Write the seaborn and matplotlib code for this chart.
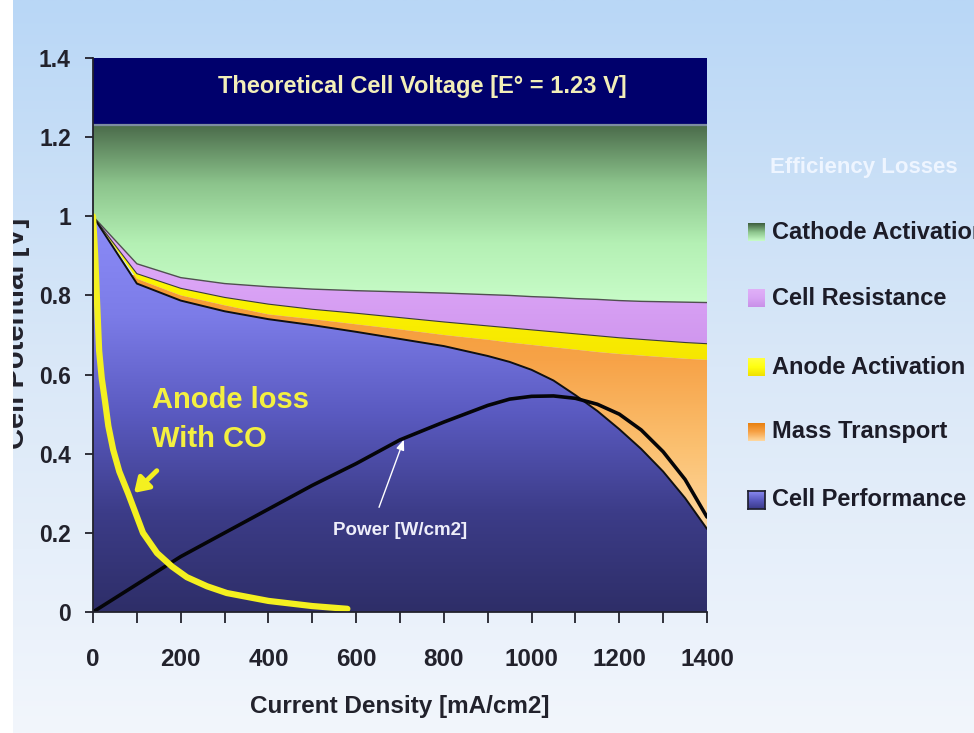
import numpy as np
import matplotlib
matplotlib.use("Agg")
import matplotlib.pyplot as plt
import seaborn as sns
from matplotlib.colors import LinearSegmentedColormap

# ---------------- data ----------------
current = [0, 100, 200, 300, 400, 500, 600, 700, 800, 900, 950, 1000, 1050,
           1100, 1150, 1200, 1250, 1300, 1350, 1400]
cathode_lower = [1.0, 0.88, 0.845, 0.83, 0.822, 0.816, 0.812, 0.809, 0.806, 0.802, 0.80,
                 0.797, 0.795, 0.792, 0.79, 0.787, 0.785, 0.784, 0.783, 0.782]
resistance_lower = [1.0, 0.855, 0.818, 0.795, 0.778, 0.765, 0.755, 0.744, 0.733, 0.723,
                    0.718, 0.713, 0.708, 0.703, 0.698, 0.693, 0.689, 0.685, 0.681, 0.678]
anode_lower = [1.0, 0.842, 0.80, 0.775, 0.752, 0.74, 0.727, 0.714, 0.70, 0.688, 0.681,
               0.675, 0.669, 0.663, 0.657, 0.652, 0.648, 0.644, 0.64, 0.637]
cell_performance = [1.0, 0.83, 0.787, 0.76, 0.74, 0.725, 0.708, 0.69, 0.672, 0.647, 0.632,
                    0.612, 0.585, 0.548, 0.508, 0.462, 0.412, 0.355, 0.288, 0.21]
power = [0.0, 0.07, 0.14, 0.20, 0.26, 0.32, 0.375, 0.435, 0.48, 0.522, 0.538, 0.545,
         0.546, 0.54, 0.525, 0.50, 0.46, 0.405, 0.335, 0.24]
co_current = [0, 5, 9, 14, 20, 27, 35, 46, 60, 80, 114, 146, 180, 214, 260, 305, 400, 500, 580]
co_potential = [1.0, 0.9, 0.79, 0.66, 0.59, 0.536, 0.47, 0.41, 0.355, 0.30, 0.20, 0.149,
                0.115, 0.088, 0.065, 0.048, 0.028, 0.015, 0.008]
theoretical_voltage = 1.23
y_top = 1.4
x_ticks = [0, 200, 400, 600, 800, 1000, 1200, 1400]
x_minor = [100, 300, 500, 700, 900, 1100, 1300]
y_ticks = [0, 0.2, 0.4, 0.6, 0.8, 1.0, 1.2, 1.4]
y_tick_labels = ["0", "0.2", "0.4", "0.6", "0.8", "1", "1.2", "1.4"]
legend_labels = ["Cathode Activation", "Cell Resistance", "Anode Activation",
                 "Mass Transport", "Cell Performance"]

# ---------------- style ----------------
sns.set_theme(style="white")
plt.rcParams["font.family"] = ["Liberation Sans", "DejaVu Sans"]
plt.rcParams["font.weight"] = "bold"

W, H = 974, 733
fig = plt.figure(figsize=(W / 100, H / 100), dpi=100)


def fx(px):
    return px / W


def fy(py):
    return 1 - py / H


# background gradient
bg = fig.add_axes([0, 0, 1, 1], zorder=0)
bg_cmap = LinearSegmentedColormap.from_list("bg", ["#f2f6fc", "#dae8f8", "#b9d7f6"])
bg.imshow(np.linspace(0, 1, 256).reshape(-1, 1), extent=[0, 1, 0, 1], origin="lower",
          aspect="auto", cmap=bg_cmap, interpolation="bilinear")
bg.set_xlim(0, 1)
bg.set_ylim(0, 1)
bg.set_axis_off()

ax = fig.add_axes([fx(93), fy(612), fx(707) - fx(93), fy(58) - fy(612)], zorder=1)
ax.patch.set_alpha(0)


def grad_band(lo, hi, stops, vmin, vmax, z):
    poly = ax.fill_between(current, lo, hi, facecolor="none", edgecolor="none", zorder=z)
    cmap = LinearSegmentedColormap.from_list("c", stops)
    im = ax.imshow(np.linspace(0, 1, 256).reshape(-1, 1), extent=[0, 1400, vmin, vmax],
                   origin="lower", aspect="auto", cmap=cmap, zorder=z,
                   interpolation="bilinear")
    im.set_clip_path(poly.get_paths()[0], transform=ax.transData)


top_line = [theoretical_voltage] * len(current)
zeros = [0] * len(current)

# theoretical band
ax.axhspan(theoretical_voltage, y_top, color="#00006c", zorder=2)
# cathode activation
grad_band(cathode_lower, top_line, ["#c8fcc8", "#b4f0b4", "#8cc48c", "#4a6a4a"], 0.78, 1.23, 2)
# cell resistance
grad_band(resistance_lower, cathode_lower, ["#cf96ee", "#dba4f6", "#e2aef8"], 0.67, 1.0, 2)
# anode activation
grad_band(anode_lower, resistance_lower, ["#f6e600", "#fcf400", "#ffff10"], 0.63, 1.0, 2)
# mass transport
grad_band(cell_performance, anode_lower, ["#fed8a0", "#fbc070", "#f7a348", "#f59a30"], 0.2, 0.85, 2)
# cell performance
grad_band(zeros, cell_performance, ["#2e2e68", "#3c3c88", "#5a5ac0", "#7c7ce8", "#8c8cf8"], 0.0, 1.0, 2)

ax.axhline(theoretical_voltage, color="#7c8ca0", lw=1.6, zorder=3)
ax.plot(current, cathode_lower, color="#505050", lw=1.0, zorder=3)
ax.plot(current, resistance_lower, color="#3a3a3a", lw=0.8, zorder=3)
ax.plot(current, cell_performance, color="#101010", lw=1.4, zorder=3)

sns.lineplot(x=current, y=power, color="#050508", lw=2.6, ax=ax, zorder=6)
sns.lineplot(x=co_current, y=co_potential, color="#f4f020", lw=4.5, ax=ax, zorder=7,
             solid_capstyle="round")

# annotations
ax.text(750, 1.327, "Theoretical Cell Voltage [E\u00b0 = 1.23 V]", color="#f2eeb8",
        fontsize=17, fontweight="bold", ha="center", va="center", zorder=8)
ax.text(135, 0.572, "Anode loss\nWith CO", color="#f4f040", fontsize=21,
        fontweight="bold", ha="left", va="top", linespacing=1.5, zorder=8)
ax.annotate("", xy=(89, 0.296), xytext=(150, 0.362),
            arrowprops=dict(arrowstyle="-|>,head_width=0.45,head_length=0.7",
                            color="#f4f020", lw=3.5), zorder=8)
ax.text(700, 0.207, "Power [W/cm2]", color="#eeeefa", fontsize=13.5,
        fontweight="bold", ha="center", va="center", zorder=8)
ax.annotate("", xy=(711, 0.442), xytext=(650, 0.258),
            arrowprops=dict(arrowstyle="-|>,head_width=0.2,head_length=0.5",
                            color="white", lw=1.0), zorder=8)

# axes
ax.set_xlim(0, 1400)
ax.set_ylim(0, y_top)
ax.set_xticks(x_ticks)
ax.set_xticks(x_minor, minor=True)
ax.set_yticks(y_ticks, y_tick_labels)
ax.tick_params(axis="x", which="both", direction="out", length=8, width=1.3,
               colors="#22222c", bottom=True, pad=18, labelsize=17.5)
ax.tick_params(axis="y", direction="out", length=6, width=1.3, colors="#22222c",
               left=True, pad=10, labelsize=16.5)
for lab in ax.get_xticklabels() + ax.get_yticklabels():
    lab.set_fontweight("bold")
for s in ["top", "right"]:
    ax.spines[s].set_visible(False)
for s in ["left", "bottom"]:
    ax.spines[s].set_color("#22222c")
    ax.spines[s].set_linewidth(1.3)
    ax.spines[s].set_zorder(9)
ax.set_xlabel("Current Density [mA/cm2]", fontsize=17.5, fontweight="bold",
              color="#22222c", labelpad=17)
ax.grid(False)

fig.text(fx(16), fy(333), "Cell Potential [V]", rotation=90, fontsize=21,
         fontweight="bold", color="#22222c", ha="center", va="center", zorder=2)
# white strip on the left edge (clips the axis title)
strip = fig.add_axes([0, 0, fx(13), 1], zorder=5)
strip.set_facecolor("white")
strip.set_xticks([])
strip.set_yticks([])
for s in strip.spines.values():
    s.set_visible(False)

# legend
fig.text(fx(770), fy(168), "Efficiency Losses", color="#eef5ff", fontsize=16,
         fontweight="bold", ha="left", va="center", zorder=6)
legend_y = [232, 298, 367, 432, 500]
legend_stops = [["#c8fcc8", "#8cc48c", "#3e5e3e"],
                ["#c890e8", "#d8a4f4", "#e0b0f8"],
                ["#f0e000", "#ffff10", "#ffff40"],
                ["#fed8a0", "#f7a348", "#e88010"],
                ["#3a3a88", "#5a5ac0", "#8a8af0"]]
for lab, py, stops in zip(legend_labels, legend_y, legend_stops):
    sq = fig.add_axes([fx(748), fy(py + 9), fx(17), 18 / H], zorder=6)
    sq.imshow(np.linspace(0, 1, 64).reshape(-1, 1), extent=[0, 1, 0, 1], origin="lower",
              aspect="auto", cmap=LinearSegmentedColormap.from_list("l", stops),
              interpolation="bilinear")
    sq.set_xticks([])
    sq.set_yticks([])
    for s in sq.spines.values():
        s.set_visible(lab == "Cell Performance")
        s.set_color("#202030")
    fig.text(fx(772), fy(py), lab, color="#1c1c28", fontsize=17, fontweight="bold",
             ha="left", va="center", zorder=6)

fig.savefig("out.png", dpi=100)
